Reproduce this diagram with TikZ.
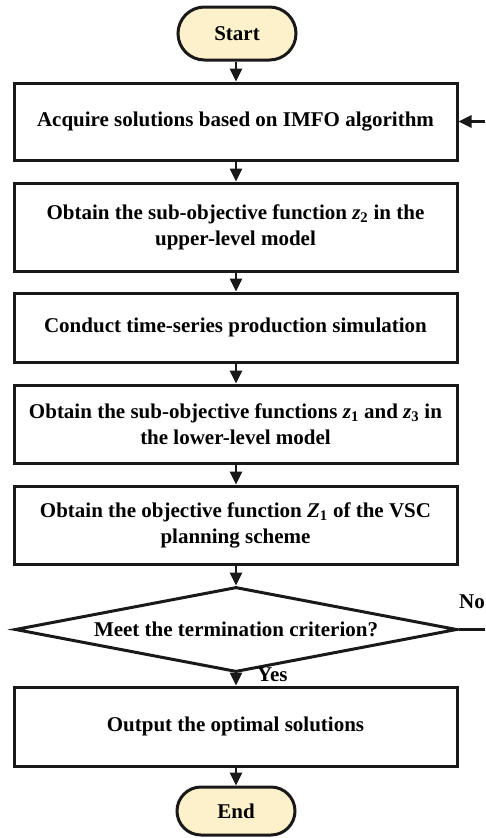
\documentclass[tikz,border=0pt]{standalone}
\usepackage{fontspec}
\setmainfont{Liberation Serif}
\usetikzlibrary{arrows.meta,shapes.geometric,shapes.misc}
\definecolor{termfill}{HTML}{FDF1CB}
\tikzset{
  base/.style={draw=black!90, line width=3pt, font=\bfseries\fontsize{21}{26}\selectfont, align=center, inner sep=0pt},
  procbox/.style={base, rectangle, minimum width=443pt},
  term/.style={base, rounded rectangle, fill=termfill, minimum width=118pt},
  conn/.style={line width=2.6pt, draw=black!90, -{Triangle[length=13pt,width=12pt]}},
  plain/.style={line width=2.6pt, draw=black!90},
  lbl/.style={font=\bfseries\fontsize{21}{24}\selectfont, inner sep=0pt}
}
\newcommand{\zv}[1]{{\itshape z}\textsubscript{#1}}
\newcommand{\Zv}[1]{{\itshape Z}\textsubscript{#1}}
\begin{document}
\begin{tikzpicture}[x=1pt,y=-1pt]
\useasboundingbox (0,0) rectangle (485,838);
\node[term, minimum height=53pt] (start) at (237,33.5) {Start};
\node[procbox, minimum height=77pt] (b1) at (235.5,121.5) {Acquire solutions based on IMFO algorithm};
\node[procbox, minimum height=88pt] (b2) at (235.5,227) {Obtain the sub-objective function \zv{2} in the\\upper-level model};
\node[procbox, minimum height=69pt] (b3) at (235.5,327.5) {Conduct time-series production simulation};
\node[procbox, minimum height=78pt] (b4) at (235.5,424) {Obtain the sub-objective functions \zv{1} and \zv{3} in\\the lower-level model};
\node[procbox, minimum height=78pt] (b5) at (235.5,525) {Obtain the objective function \Zv{1} of the VSC\\planning scheme};
\node[base, diamond, minimum width=442pt, minimum height=85pt, aspect=5.2] (d) at (236,629.5) {Meet the termination criterion?};
\node[procbox, minimum height=79pt] (b6) at (235.5,726.5) {Output the optimal solutions};
\node[term, minimum height=48pt] (end) at (236,811) {End};
\coordinate (inR) at (485,121.5);
\coordinate (noR) at (485,629.5);
\draw[conn] (start.south -| 236,0) -- (b1.north -| 236,0);
\draw[conn] (b1.south -| 236,0) -- (b2.north -| 236,0);
\draw[conn] (b2.south -| 236,0) -- (b3.north -| 236,0);
\draw[conn] (b3.south -| 236,0) -- (b4.north -| 236,0);
\draw[conn] (b4.south -| 236,0) -- (b5.north -| 236,0);
\draw[conn] (b5.south -| 236,0) -- (d.north);
\draw[conn] (d.south) -- (b6.north -| 236,0);
\draw[conn] (b6.south -| 236,0) -- (end.north);
\draw[conn] (inR) -- (b1.east);
\draw[plain] (d.east) -- (noR);
\node[lbl, anchor=south west] (no) at (459,609) {No};
\node[lbl, anchor=west] (yes) at (257,675) {Yes};
\end{tikzpicture}
\end{document}
